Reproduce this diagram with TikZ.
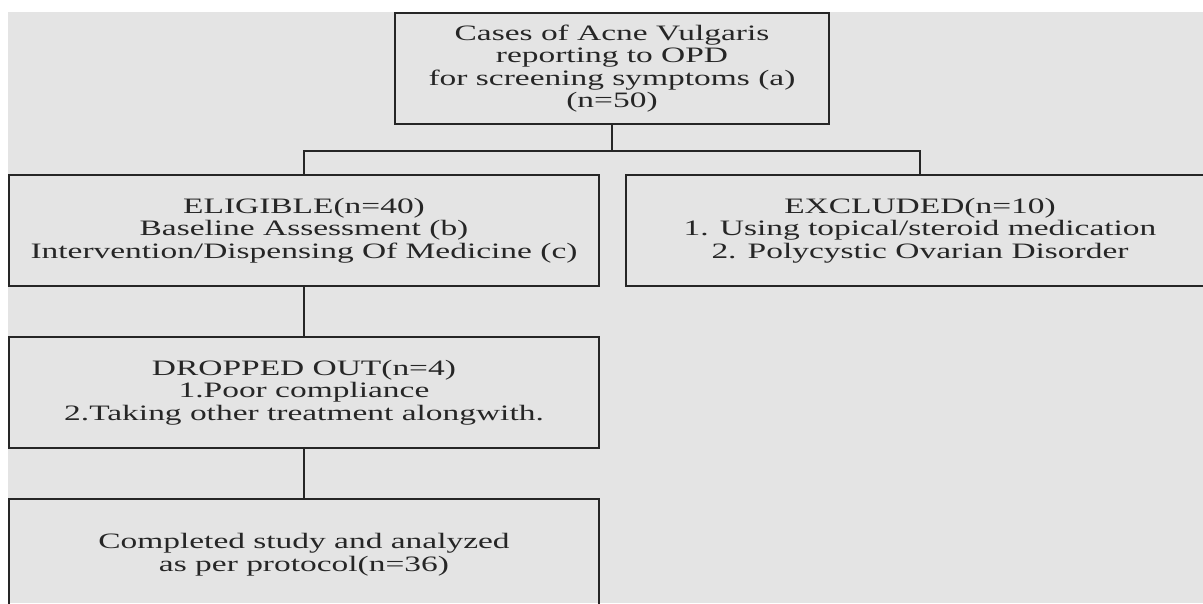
\documentclass[tikz,border=0pt]{standalone}
\usepackage{fontspec}
\setmainfont{Liberation Serif}[FakeStretch=1.52]

\definecolor{bggray}{RGB}{228,228,228}
\definecolor{inkgray}{RGB}{38,38,38}

\tikzset{
    flowbox/.style={draw=inkgray,
        line width=1.8pt,
        minimum width=590pt,
        minimum height=111pt,
        inner sep=0pt,
        align=center,
        text=inkgray,
        font=\fontsize{22pt}{22.6pt}\selectfont},
    flowline/.style={draw=inkgray, line width=1.8pt}
}

\begin{document}
\begin{tikzpicture}[x=1pt,y=-1pt]

\useasboundingbox (0,0) rectangle (1203,603);
\clip (0,0) rectangle (1203,603);
\fill[bggray] (8,12) rectangle (1203,603);

% Screening
\node (cases) [flowbox,
    minimum width=434pt
] at (612,68.5) {Cases of Acne Vulgaris\\reporting to OPD\\for screening symptoms (a)\\(n=50)};

% Eligible / excluded
\node (eligible) [flowbox
] at (304,230.5) {ELIGIBLE(n=40)\\Baseline Assessment (b)\\Intervention/Dispensing Of Medicine (c)};

\node (excluded) [flowbox,
    minimum width=588pt
] at (920,230.5) {EXCLUDED(n=10)\\1. Using topical/steroid medication\\2. Polycystic Ovarian Disorder};

% Dropped out
\node (dropped) [flowbox
] at (304,392.5) {DROPPED OUT(n=4)\\1.Poor compliance\\2.Taking other treatment alongwith.};

% Completed
\node (completed) [flowbox
] at (304,554.5) {Completed study and analyzed\\as per protocol(n=36)};

%-------------------------------------
\draw [flowline] (cases.south) -- ++(0,26) -| (eligible.north);
\draw [flowline] (cases.south) -- ++(0,26) -| (excluded.north);
\draw [flowline] (eligible.south) -- (dropped.north);
\draw [flowline] (dropped.south) -- (completed.north);

\end{tikzpicture}
\end{document}
